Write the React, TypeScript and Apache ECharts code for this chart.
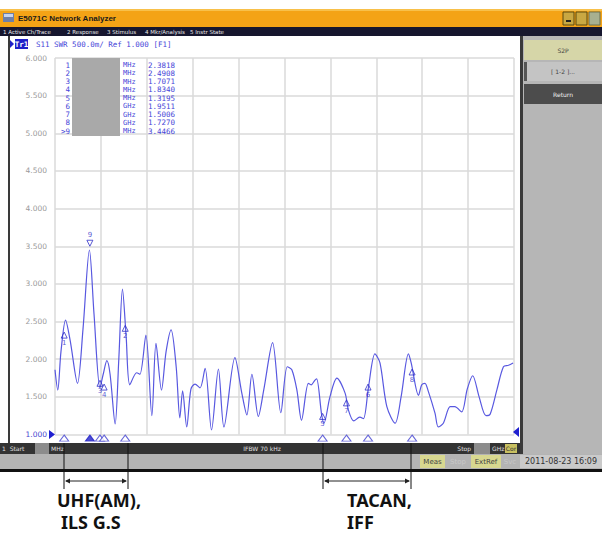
import React, { useEffect, useRef } from 'react';
import * as echarts from 'echarts';

// Trace: x in % of sweep span (0..100), y = SWR
const traceX = [
  0.0, 0.6, 1.3, 2.3, 3.3, 4.9, 6.1, 7.5, 8.5, 9.8,
  10.5, 11.3, 12.0, 13.1, 13.9, 14.7, 15.5, 16.3, 17.8, 18.5,
  19.8, 21.1, 22.0, 23.2, 24.2, 25.3, 26.4, 27.2, 27.8, 28.7,
  29.6, 30.5, 31.6, 32.7, 34.1, 35.6, 36.8, 39.2, 40.7, 41.8,
  42.9, 44.3, 45.5, 47.4, 49.2, 50.6, 51.6, 52.7, 53.7, 55.2,
  55.8, 56.6, 57.0, 58.1, 58.6, 59.9, 61.4, 63.2, 63.9, 65.1,
  66.4, 67.2, 68.3, 69.7, 70.8, 72.3, 74.1, 75.4, 77.0, 77.6,
  79.2, 79.9, 80.6, 81.3, 82.8, 83.5, 84.6, 86.1, 87.1, 88.6,
  89.8, 91.0, 92.4, 93.9, 94.8, 96.3, 97.7, 98.8, 99.8,
];
const traceY = [
  1.86, 1.59, 2.10, 2.52, 2.25, 1.68, 2.40, 3.45, 2.60, 1.62,
  1.80, 1.98, 1.80, 1.14, 2.00, 2.93, 2.30, 1.66, 1.82, 1.80,
  2.32, 1.25, 2.21, 1.59, 2.10, 2.39, 1.90, 1.22, 1.58, 1.10,
  1.60, 1.67, 1.62, 1.88, 1.06, 1.87, 1.10, 2.02, 1.55, 1.26,
  1.80, 1.24, 1.60, 2.22, 1.29, 1.90, 1.86, 1.59, 1.19, 1.68,
  1.66, 1.72, 1.74, 1.26, 1.15, 1.50, 1.75, 1.55, 1.33, 1.18,
  1.23, 1.21, 1.63, 2.07, 1.95, 1.37, 1.15, 1.50, 2.07, 1.95,
  1.52, 1.66, 1.68, 1.58, 1.28, 1.10, 1.15, 1.37, 1.37, 1.30,
  1.60, 1.78, 1.50, 1.25, 1.27, 1.60, 1.90, 1.92, 1.95,
];

// Markers
const markerIds = ['1', '9', '3', '4', '2', '5', '7', '6', '8'];
const markerX = [2.0, 7.6, 9.8, 10.7, 15.3, 58.3, 63.5, 68.2, 77.8];
const markerY = [2.32, 3.54, 1.68, 1.63, 2.41, 1.24, 1.42, 1.63, 1.83];

// Marker table
const tableNums = ['1', '2', '3', '4', '5', '6', '7', '8', '>9'];
const tableUnits = ['MHz', 'MHz', 'MHz', 'MHz', 'MHz', 'GHz', 'GHz', 'GHz', 'MHz'];
const tableVals = ['2.3818', '2.4908', '1.7071', '1.8340', '1.3195', '1.9511', '1.5006', '1.7270', '3.4466'];

const yTicks = [1, 6, 0.5];
const menuItems = ['1 Active Ch/Trace', '2 Response', '3 Stimulus', '4 Mkr/Analysis', '5 Instr State'];
const menuX = [3, 67, 107, 145, 190];

const BLUE = '#4646d8';
const MONO = '"DejaVu Sans Mono", monospace';
const SANS = '"DejaVu Sans", sans-serif';

export default function App() {
  const ref = useRef<HTMLDivElement>(null);
  useEffect(() => {
    if (!ref.current) return;
    const chart = echarts.init(ref.current, undefined, { renderer: 'svg' });
    const trace = traceX.map((x, i) => [x, traceY[i]]);
    const marks = markerX.map((x, i) => ({
      value: [x, markerY[i]],
      symbolRotate: markerIds[i] === '9' ? 180 : 0,
      label: { formatter: markerIds[i], position: markerIds[i] === '9' ? 'top' : 'bottom' },
    }));
    const bottomMarks = markerX.map((x, i) => ({
      value: [x, 0.953],
      itemStyle: markerIds[i] === '9' ? { color: '#2020c8', borderColor: '#2020c8' } : undefined,
    }));

    const g: any[] = [];
    const rect = (x: number, y: number, w: number, h: number, fill: string, z = -10, extra: any = {}) =>
      g.push({ type: 'rect', shape: { x, y, width: w, height: h }, style: { fill, ...extra }, z, silent: true });
    const text = (x: number, y: number, t: string, fill: string, font: string, align = 'left', z = 10) =>
      g.push({ type: 'text', x, y, style: { text: t, fill, font, textAlign: align, textVerticalAlign: 'middle' }, z, silent: true });

    // title bar
    rect(0, 9, 602, 18, '#f4a316');
    rect(0, 9, 602, 2, '#f8c04a');
    rect(3, 13, 11, 9, '#6e7fa8', -5);
    rect(4, 14, 9, 3, '#c8d4ee', -4);
    text(18, 18, 'E5071C Network Analyzer', '#1a1a1a', `bold 8px "Liberation Sans", sans-serif`);
    rect(563, 12, 11, 13, '#c9a842', -5, { stroke: '#5a4a10', lineWidth: 1 });
    rect(576, 12, 11, 13, '#c9a842', -5, { stroke: '#5a4a10', lineWidth: 1 });
    rect(589, 12, 11, 13, '#a8b090', -5, { stroke: '#6a7050', lineWidth: 1 });
    rect(566, 20, 5, 2, '#222', -4);
    // menu bar
    rect(0, 27, 602, 9, '#16162e');
    menuItems.forEach((m, i) => text(menuX[i], 31.5, m, '#e8e8e8', `5.5px ${SANS}`));
    // left border of panel
    rect(8, 36, 2, 407, '#3a3a3a');
    // right panel
    rect(520, 36, 3, 418, '#3a3a3a');
    rect(523, 36, 79, 418, '#b6b6b6');
    rect(524, 40, 78, 20, '#d6d6a8');
    text(563, 50, 'S2P', '#444', `6px ${SANS}`, 'center');
    rect(524, 62, 78, 19, '#c4c4c4');
    rect(524, 62, 3, 19, '#555', -9);
    text(563, 71.5, '[ 1-2 ]...', '#444', `6px ${SANS}`, 'center');
    rect(524, 84, 78, 20, '#4c4c4c');
    text(563, 94, 'Return', '#f0f0f0', `6px ${SANS}`, 'center');

    // header line
    g.push({ type: 'polygon', shape: { points: [[10, 40], [14, 44], [10, 48]] }, style: { fill: '#2020c8' }, z: 10 });
    rect(15, 39, 13, 10, '#2020c8', 5);
    text(21.5, 44, 'Tr1', '#ffffff', `bold 7.5px ${MONO}`, 'center');
    text(36, 44, 'S11 SWR 500.0m/ Ref 1.000 [F1]', BLUE, `7.5px ${MONO}`);

    // marker table
    rect(72, 58, 48, 78, '#a9a9a9', 20);
    tableNums.forEach((n, i) => {
      const y = 65 + i * 8.25;
      text(70, y, n, BLUE, `7.5px ${MONO}`, 'right', 21);
      text(123, y, tableUnits[i], BLUE, `7px ${MONO}`, 'left', 21);
      text(148, y, tableVals[i], BLUE, `7.5px ${MONO}`, 'left', 21);
    });

    // ref pointers
    g.push({ type: 'polygon', shape: { points: [[49, 430], [55, 434.5], [49, 439]] }, style: { fill: '#2020d0' }, z: 10 });
    g.push({ type: 'polygon', shape: { points: [[519, 427], [513, 432], [519, 437]] }, style: { fill: '#2020d0' }, z: 10 });

    // status bar
    rect(0, 443, 520, 11, '#333333');
    text(2, 448.5, '1  Start', '#e0e0e0', `6px ${SANS}`);
    rect(35, 443, 14, 11, '#8c8c8c', -5);
    text(51, 448.5, 'MHz', '#e0e0e0', `6px ${SANS}`);
    text(262, 448.5, 'IFBW 70 kHz', '#e0e0e0', `6px ${SANS}`, 'center');
    text(471, 448.5, 'Stop', '#e0e0e0', `6px ${SANS}`, 'right');
    rect(474, 443, 16, 11, '#8c8c8c', -5);
    text(492, 448.5, 'GHz', '#e0e0e0', `6px ${SANS}`);
    rect(505, 444, 12, 9, '#c8c060', -5);
    text(511, 448.5, 'Cor', '#333', `6px ${SANS}`, 'center');
    // second bar
    rect(0, 454, 602, 15, '#b4b4b4');
    rect(420, 455, 25, 13, '#d8d890', -5);
    text(432.5, 461.5, 'Meas', '#444', `7px ${SANS}`, 'center');
    text(458, 461.5, 'Stop', '#c8c8c8', `7px ${SANS}`, 'center');
    rect(471, 455, 30, 13, '#d8d890', -5);
    text(486, 461.5, 'ExtRef', '#444', `7px ${SANS}`, 'center');
    text(510, 461.5, 'Svc', '#c8c8c8', `7px ${SANS}`, 'center');
    rect(520, 455, 82, 13, '#cacaca', -5);
    text(561, 461.5, '2011-08-23 16:09', '#333', `8px ${SANS}`, 'center');
    rect(0, 469, 602, 3, '#111111');

    // annotation lines and arrows
    const vlines = [64, 128, 323, 411];
    vlines.forEach((x) =>
      g.push({ type: 'line', shape: { x1: x, y1: 443, x2: x, y2: 489 }, style: { stroke: '#111', lineWidth: 1 }, z: 30 })
    );
    const arrow = (x1: number, x2: number, y: number) => {
      g.push({ type: 'line', shape: { x1: x1 + 2, y1: y, x2: x2 - 2, y2: y }, style: { stroke: '#222', lineWidth: 1 }, z: 30 });
      g.push({ type: 'polygon', shape: { points: [[x1 + 1, y], [x1 + 6, y - 2.5], [x1 + 6, y + 2.5]] }, style: { fill: '#222' }, z: 30 });
      g.push({ type: 'polygon', shape: { points: [[x2 - 1, y], [x2 - 6, y - 2.5], [x2 - 6, y + 2.5]] }, style: { fill: '#222' }, z: 30 });
    };
    arrow(64, 128, 481);
    arrow(323, 411, 481);
    const LBL = `bold 18px "Noto Sans", "Open Sans", sans-serif`;
    text(57, 500, 'UHF(AM),', '#111', LBL);
    text(61, 522, 'ILS G.S', '#111', LBL);
    text(347, 500, 'TACAN,', '#111', LBL);
    text(347, 522, 'IFF', '#111', LBL);

    chart.setOption({
      animation: false,
      backgroundColor: '#ffffff',
      grid: { left: 55, top: 58, width: 459, height: 376.5, containLabel: false },
      xAxis: {
        type: 'value', min: 0, max: 100, interval: 10,
        axisLine: { show: false }, axisTick: { show: false }, axisLabel: { show: false },
        splitLine: { show: true, lineStyle: { color: '#dadada', width: 1.5 } },
      },
      yAxis: {
        type: 'value', min: yTicks[0], max: yTicks[1], interval: yTicks[2],
        axisLine: { show: false }, axisTick: { show: false },
        axisLabel: {
          margin: 8, fontSize: 7.5, fontFamily: SANS, color: '#9a9a9a',
          formatter: (v: number) => (v === 1 ? `{r|${v.toFixed(3)}}` : v.toFixed(3)),
          rich: { r: { color: '#4646d0', fontSize: 7.5, fontFamily: SANS } },
        },
        splitLine: { show: true, lineStyle: { color: '#dadada', width: 1.5 } },
      },
      graphic: g,
      series: [
        {
          type: 'line', data: trace, smooth: 0.3, showSymbol: false,
          lineStyle: { color: '#5858e0', width: 1.2 }, z: 5,
        },
        {
          type: 'scatter', data: marks, symbol: 'triangle', symbolSize: 6,
          itemStyle: { color: 'transparent', borderColor: '#3030c8', borderWidth: 1 },
          label: { show: true, fontSize: 7, color: '#3030c8', fontFamily: SANS, distance: 1 },
          z: 6,
        },
        {
          type: 'scatter', data: bottomMarks, symbol: 'triangle', symbolSize: [9, 6], clip: false,
          itemStyle: { color: '#ffffff', borderColor: '#4040d0', borderWidth: 1 }, z: 6,
        },
      ],
    });
    return () => chart.dispose();
  }, []);
  return <div ref={ref} style={{ position: 'fixed', left: 0, top: 0, width: 602, height: 535 }} />;
}
